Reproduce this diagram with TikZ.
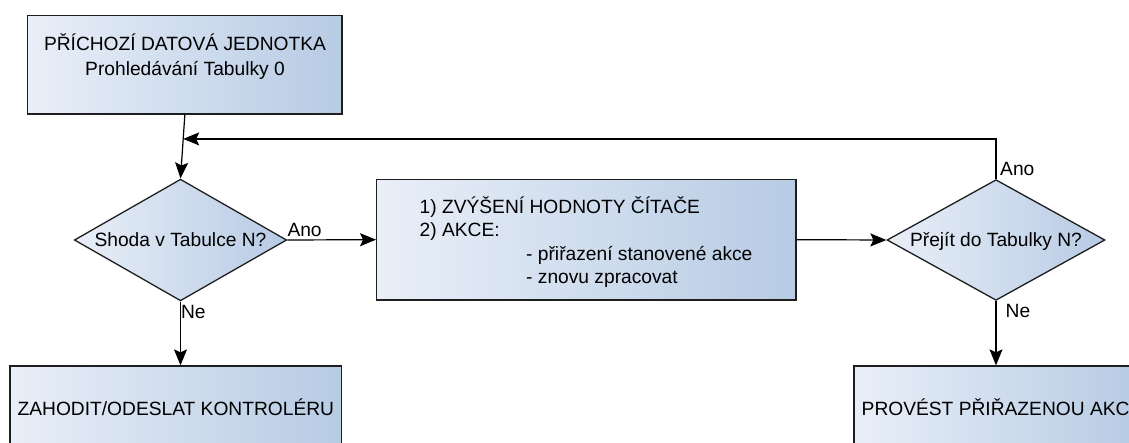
\documentclass[tikz,border=0pt]{standalone}
\usepackage{fontspec}
\setmainfont{Liberation Sans}
\usetikzlibrary{shapes.geometric,arrows.meta,calc}
\definecolor{gradL}{RGB}{233,239,248}
\definecolor{gradR}{RGB}{183,203,228}
\definecolor{edgecol}{RGB}{30,30,30}
\newcommand\myfnt{\fontsize{19.2}{23.3}\selectfont}
\begin{document}
\begin{tikzpicture}[x=1pt,y=-1pt,
  box/.style={rectangle, draw=edgecol, line width=1.3pt, left color=gradL, right color=gradR,
    inner sep=0pt, font=\myfnt, text height=13.7pt, text depth=0pt},
  dia/.style={diamond, shape aspect=1.75, draw=edgecol, line width=1.3pt, left color=gradL, right color=gradR,
    inner sep=0pt, font=\myfnt, text height=13.7pt, text depth=0pt},
  txt/.style={inner sep=0pt, font=\myfnt, anchor=base},
  lbl/.style={inner sep=0pt, font=\myfnt, anchor=base west},
  conn/.style={draw=black, line width=1.2pt, -{Stealth[length=16pt,width=13pt,inset=3pt]}}]
\fill[white] (0,0) rectangle (1129,442);
\clip (0,0) rectangle (1129,442);
% boxes
\node[box, minimum width=314.3pt, minimum height=98.3pt] (b1) at (184.85,64.85) {};
\node[txt] (b1a) at (185,50) {PŘÍCHOZÍ DATOVÁ JEDNOTKA};
\node[txt] (b1b) at (185,75) {Prohledávání Tabulky 0};
\node[dia, minimum width=212.4pt, minimum height=121.7pt] (d1) at (180.5,240) {Shoda v Tabulce N?};
\node[box, minimum width=419.3pt, minimum height=120.7pt] (b2) at (586.35,239.65) {};
\node[lbl] (b2a) at (419.5,213.3) {1) ZVÝŠENÍ HODNOTY ČÍTAČE};
\node[lbl] (b2b) at (419.5,236.7) {2) AKCE:};
\node[lbl] (b2c) at (526,260) {- přiřazení stanovené akce};
\node[lbl] (b2d) at (526,283.3) {- znovu zpracovat};
\node[dia, minimum width=218pt, minimum height=120.7pt] (d2) at (996,240) {Přejít do Tabulky N?};
\node[box, minimum width=331.7pt, minimum height=85pt] (b3) at (175.85,408.5) {ZAHODIT/ODESLAT KONTROLÉRU};
\node[box, minimum width=283.2pt, minimum height=85pt] (b4) at (995.6,408.5) {PROVÉST PŘIŘAZENOU AKC};
% connectors
\coordinate (m) at ($(b1.south)!0.38!(d1.north)$);
\draw[conn] (b1.south) -- (d1.north);
\draw[conn] (d2.north) |- (m);
\draw[conn] (d1.east) -- (b2.west);
\draw[conn] (b2.east) -- (d2.west);
\draw[conn] (d1.south) -- (d1.south |- b3.north);
\draw[conn] (d2.south) -- (d2.south |- b4.north);
% labels
\node[lbl] (l1) at (287.3,236.7) {Ano};
\node[lbl] (l2) at (180.8,318.3) {Ne};
\node[lbl] (l3) at (1000,175) {Ano};
\node[lbl] (l4) at (1005.5,317.5) {Ne};
\end{tikzpicture}
\end{document}
